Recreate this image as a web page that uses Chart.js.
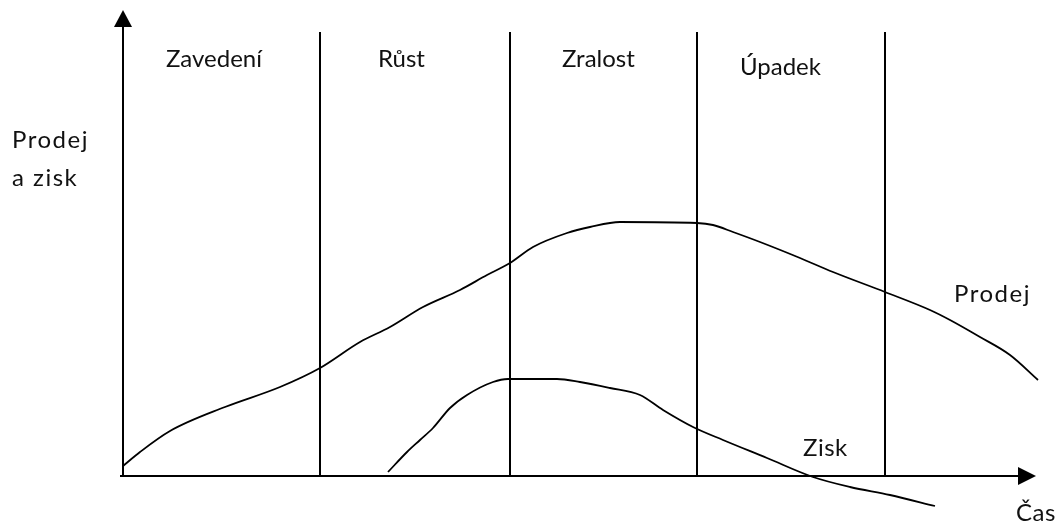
<!DOCTYPE html>
<html>
<head>
<meta charset="utf-8">
<script src="https://cdn.jsdelivr.net/npm/chart.js@4"></script>
<style>
  html, body { margin: 0; padding: 0; background: #fff; }
  #wrap { width: 1063px; height: 524px; }
</style>
</head>
<body>
<div id="wrap"><canvas id="myChart"></canvas></div>
<script>
// time on x, sales / profit on y (origin = axis crossing)
var prodejX = [0, 17, 47, 102, 157, 197, 237, 267, 300, 337, 364, 387, 410, 444, 467, 497, 574, 590, 610, 637, 677, 710, 762, 807, 827, 857, 887, 915];
var prodejY = [10, 24, 45, 69, 89, 108, 134, 149, 169, 186, 201, 213, 229, 243, 249, 254, 253, 251, 244, 234, 218, 204, 184, 166, 156, 139, 121, 96];
var ziskX = [265, 284, 297, 310, 327, 344, 370, 385, 434, 457, 487, 517, 540, 570, 600, 644, 690, 727, 767, 812];
var ziskY = [4, 24, 36, 48, 68, 81, 94, 97, 97, 94, 88, 81, 66, 49, 36, 18, -1, -11, -19, -30];
var phaseBounds = [197, 387, 574, 762];
var phaseLabels = ["Zavedení", "Růst", "Zralost", "Úpadek"];
var phaseLabelX = [43, 255, 439, 617];

function pts(xs, ys) {
  return xs.map(function (x, i) { return { x: x, y: ys[i] }; });
}

var font = '24px Lato, "Open Sans", sans-serif';

var lifeCycle = {
  id: 'lifeCycle',
  afterDatasetsDraw: function (chart) {
    var c = chart.ctx;
    var xs = chart.scales.x, ys = chart.scales.y;
    var x0 = xs.getPixelForValue(0), y0 = ys.getPixelForValue(0);
    var xEnd = xs.getPixelForValue(913), yTop = ys.getPixelForValue(466);
    c.save();
    c.strokeStyle = '#000';
    c.fillStyle = '#000';
    // phase separators
    c.lineWidth = 2;
    phaseBounds.forEach(function (b) {
      var px = Math.round(xs.getPixelForValue(b));
      c.beginPath();
      c.moveTo(px, ys.getPixelForValue(444));
      c.lineTo(px, y0);
      c.stroke();
    });
    // axes
    c.beginPath();
    c.moveTo(x0, y0);
    c.lineTo(x0, yTop + 14);
    c.moveTo(x0 - 3, y0);
    c.lineTo(xEnd - 14, y0);
    c.stroke();
    // arrow heads
    c.beginPath();
    c.moveTo(x0, yTop);
    c.lineTo(x0 - 9, yTop + 17);
    c.lineTo(x0 + 9, yTop + 17);
    c.closePath();
    c.fill();
    c.beginPath();
    c.moveTo(xEnd, y0);
    c.lineTo(xEnd - 18, y0 - 9);
    c.lineTo(xEnd - 18, y0 + 9);
    c.closePath();
    c.fill();
    // texts
    c.font = font;
    c.fillStyle = '#111';
    c.textAlign = 'left';
    c.textBaseline = 'alphabetic';
    phaseLabels.forEach(function (t, i) {
      c.fillText(t, xs.getPixelForValue(phaseLabelX[i]), i === 3 ? 75 : 67);
    });
    c.letterSpacing = '1.5px';
    c.fillText('Prodej', 12, 148);
    c.fillText('a zisk', 12, 186);
    c.fillText('Prodej', 954, 302);
    c.letterSpacing = '0.5px';
    c.fillText('Zisk', 803, 456);
    c.fillText('Čas', 1016, 521);
    c.restore();
  }
};

var ctx = document.getElementById('myChart');
var myChart = new Chart(ctx, {
  type: 'scatter',
  data: {
    datasets: [{
      label: 'Prodej',
      data: pts(prodejX, prodejY),
      showLine: true,
      borderColor: '#000',
      borderWidth: 1.8,
      pointRadius: 0,
      cubicInterpolationMode: 'monotone'
    }, {
      label: 'Zisk',
      data: pts(ziskX, ziskY),
      showLine: true,
      borderColor: '#000',
      borderWidth: 1.8,
      pointRadius: 0,
      cubicInterpolationMode: 'monotone'
    }]
  },
  options: {
    responsive: true,
    maintainAspectRatio: false,
    animation: false,
    layout: { padding: 0 },
    plugins: { legend: { display: false }, tooltip: { enabled: false } },
    scales: {
      x: { type: 'linear', min: -123, max: 940, display: false },
      y: { type: 'linear', min: -48, max: 476, display: false }
    }
  },
  plugins: [lifeCycle]
});
</script>
</body>
</html>
